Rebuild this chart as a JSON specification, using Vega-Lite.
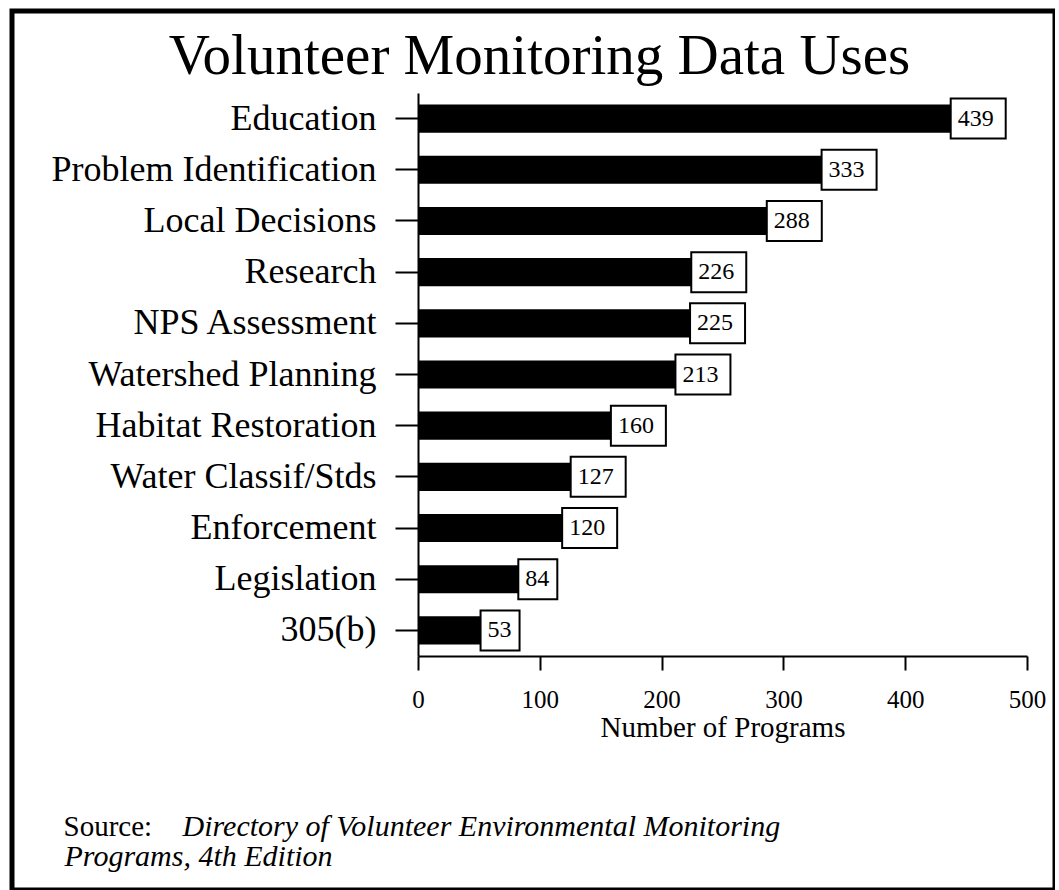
{
  "$schema": "https://vega.github.io/schema/vega-lite/v6.json",
  "width": 1043,
  "height": 879,
  "autosize": {"type": "none"},
  "padding": {"left": 12, "top": 11, "right": 0, "bottom": 0},
  "background": "white",
  "view": {"stroke": "black", "strokeWidth": 5, "fill": "white"},
  "config": {
    "font": "Liberation Serif",
    "axis": {
      "labelColor": "black",
      "tickColor": "black",
      "domainColor": "black",
      "titleColor": "black",
      "grid": false,
      "titleFontWeight": "normal",
      "labelFont": "Liberation Serif",
      "titleFont": "Liberation Serif"
    }
  },
  "title": {
    "text": "Volunteer Monitoring Data Uses",
    "font": "Liberation Serif",
    "fontSize": 57,
    "fontWeight": "normal",
    "color": "black",
    "anchor": "middle",
    "frame": "group",
    "offset": -75,
    "dx": 6
  },
  "data": {
    "values": [
      {"use": "Education", "programs": 439},
      {"use": "Problem Identification", "programs": 333},
      {"use": "Local Decisions", "programs": 288},
      {"use": "Research", "programs": 226},
      {"use": "NPS Assessment", "programs": 225},
      {"use": "Watershed Planning", "programs": 213},
      {"use": "Habitat Restoration", "programs": 160},
      {"use": "Water Classif/Stds", "programs": 127},
      {"use": "Enforcement", "programs": 120},
      {"use": "Legislation", "programs": 84},
      {"use": "305(b)", "programs": 53}
    ]
  },
  "layer": [
    {
      "mark": {"type": "bar", "color": "black"},
      "encoding": {
        "x": {
          "field": "programs",
          "type": "quantitative",
          "scale": {"domain": [0, 500], "range": [406, 1015], "nice": false, "zero": true},
          "axis": {
            "title": "Number of Programs",
            "titleFontSize": 29,
            "titlePadding": 1,
            "values": [0, 100, 200, 300, 400, 500],
            "format": "d",
            "labelFontSize": 25,
            "labelPadding": 17,
            "tickSize": 14,
            "tickWidth": 2,
            "domainWidth": 2,
            "labelFlush": false,
            "labelOverlap": false,
            "offset": -234
          }
        },
        "y": {
          "field": "use",
          "type": "nominal",
          "sort": null,
          "scale": {"range": [82, 645], "paddingInner": 0.45, "paddingOuter": 0.225},
          "axis": {
            "title": "Source:",
            "titleFontSize": 29,
            "titleAngle": 0,
            "titleAlign": "left",
            "titleBaseline": "alphabetic",
            "titleX": -355,
            "titleY": 824,
            "labelFontSize": 36,
            "labelPadding": 19,
            "labelLimit": 1000,
            "tickSize": 23,
            "tickWidth": 2,
            "domainWidth": 2,
            "offset": -406
          }
        }
      }
    },
    {
      "mark": {"type": "point", "filled": true, "fill": "white", "stroke": "black", "strokeWidth": 2, "opacity": 1, "size": 400},
      "encoding": {
        "x": {
          "field": "programs",
          "type": "quantitative",
          "axis": {
            "orient": "top",
            "title": "Programs, 4th Edition",
            "titleFontSize": 30,
            "titleFontStyle": "italic",
            "titleAngle": 0,
            "titleAlign": "left",
            "titleBaseline": "alphabetic",
            "titleX": 52,
            "titleY": 854,
            "labels": false,
            "ticks": false,
            "domain": false
          }
        },
        "y": {
          "field": "use",
          "type": "nominal",
          "sort": null,
          "axis": {
            "orient": "right",
            "title": "Directory of Volunteer Environmental Monitoring",
            "titleFontSize": 30,
            "titleFontStyle": "italic",
            "titleAngle": 0,
            "titleAlign": "left",
            "titleBaseline": "alphabetic",
            "titleX": -873,
            "titleY": 824,
            "labels": false,
            "ticks": false,
            "domain": false
          }
        },
        "shape": {
          "condition": {"test": "datum.programs >= 100", "value": "M-0.2,-2H5.3V2H-0.2Z"},
          "value": "M-0.2,-2H3.7V2H-0.2Z"
        }
      }
    },
    {
      "mark": {"type": "text", "align": "left", "dx": 5, "baseline": "middle", "fontSize": 24, "color": "black", "font": "Liberation Serif"},
      "encoding": {
        "x": {"field": "programs", "type": "quantitative", "axis": null},
        "y": {"field": "use", "type": "nominal", "sort": null, "axis": null},
        "text": {"field": "programs", "type": "quantitative"}
      }
    }
  ],
  "resolve": {"axis": {"x": "independent", "y": "independent"}}
}
